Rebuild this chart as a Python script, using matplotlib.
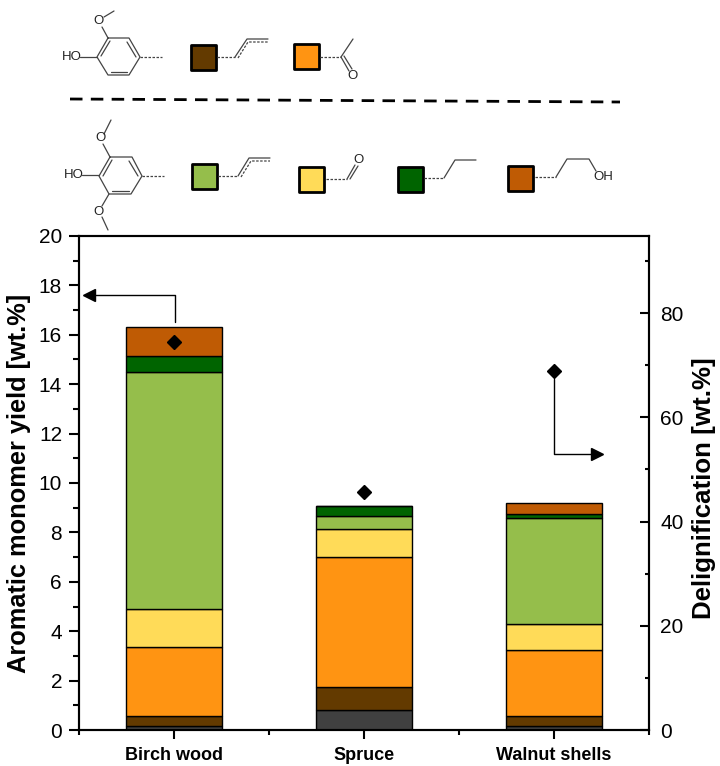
import matplotlib
matplotlib.use('Agg')
import matplotlib.pyplot as plt
from matplotlib.ticker import MultipleLocator, FixedLocator

plt.rcParams['font.family'] = ['Liberation Sans', 'DejaVu Sans']

feedstocks = ['Birch wood', 'Spruce', 'Walnut shells']
other = [0.15, 0.8, 0.17]
g_allyl = [0.4, 0.95, 0.41]
g_acetyl = [2.8, 5.25, 2.64]
s_aldehyde = [1.55, 1.15, 1.08]
s_allyl = [9.6, 0.5, 4.3]
s_propyl = [0.65, 0.4, 0.15]
s_propanol = [1.15, 0.0, 0.45]
delignification = [74.5, 45.7, 68.9]

GREY = '#404040'
BROWN = '#633A00'
ORANGE = '#FF9412'
YELLOW = '#FFDB58'
LGREEN = '#95BE4B'
DGREEN = '#006400'
RUST = '#BF5B04'

series = [(other, GREY), (g_allyl, BROWN), (g_acetyl, ORANGE), (s_aldehyde, YELLOW),
          (s_allyl, LGREEN), (s_propyl, DGREEN), (s_propanol, RUST)]

W, H = 720, 766
fig = plt.figure(figsize=(W / 100, H / 100), dpi=100)
ax = fig.add_axes([79 / W, 1 - 730 / H, 570 / W, 494 / H])
x = [1, 2, 3]

bottom = [0, 0, 0]
for vals, col in series:
    ax.bar(x, vals, 0.51, bottom=bottom, color=col, edgecolor='black', linewidth=1)
    bottom = [b + v for b, v in zip(bottom, vals)]

ax.set_xlim(0.5, 3.5)
ax.set_ylim(0, 20)
ax.set_xticks(x)
ax.set_xticklabels(feedstocks, fontweight='bold')
ax.xaxis.set_minor_locator(FixedLocator([0.5, 1.5, 2.5, 3.5]))
ax.yaxis.set_major_locator(MultipleLocator(2))
ax.yaxis.set_minor_locator(MultipleLocator(1))
ax.tick_params(axis='y', which='major', length=7.2, width=1.5, labelsize=15, pad=5)
ax.tick_params(axis='y', which='minor', length=4.3, width=1.5)
ax.tick_params(axis='x', which='major', length=6.5, width=1.5, labelsize=13, pad=6)
ax.tick_params(axis='x', which='minor', length=3.6, width=1.5)
ax.set_ylabel('Aromatic monomer yield [wt.%]', fontsize=18.3, fontweight='bold')
ax.yaxis.set_label_coords(-0.084, 0.5)
for s in ax.spines.values():
    s.set_linewidth(1.5)

ax2 = ax.twinx()
ax2.set_ylim(0, 94.8)
ax2.yaxis.set_major_locator(MultipleLocator(20))
ax2.yaxis.set_minor_locator(MultipleLocator(10))
ax2.tick_params(axis='y', which='major', direction='in', length=6.5, width=1.5, labelsize=15, pad=8)
ax2.tick_params(axis='y', which='minor', direction='in', length=3.2, width=1.5)
ax2.set_ylabel('Delignification [wt.%]', fontsize=18.6, fontweight='bold')
ax2.yaxis.set_label_coords(1.076, 0.49)
ax2.plot(x, delignification, linestyle='none', marker='D', color='black', markersize=7.5, zorder=5)
for s in ax2.spines.values():
    s.set_linewidth(1.5)

# overlay in pixel coordinates for the structures and arrows
ov = fig.add_axes([0, 0, 1, 1], facecolor='none')
ov.set_xlim(0, W)
ov.set_ylim(H, 0)
ov.axis('off')


def solid(pts, lw=0.9, col='#444444'):
    ov.plot([p[0] for p in pts], [p[1] for p in pts], color=col, lw=lw, solid_capstyle='round')


def dash(pts, lw=0.9):
    ov.plot([p[0] for p in pts], [p[1] for p in pts], color='#444444', lw=lw, linestyle=(0, (2, 1.2)))


def label(px, py, txt):
    ov.text(px, py, txt, fontsize=9.5, ha='center', va='center', color='#222222')


def square(px, py, col):
    ov.add_patch(plt.Rectangle((px, py), 25, 25, facecolor=col, edgecolor='black', linewidth=2, joinstyle='round'))


# guaiacyl
solid([(108, 38), (129, 38), (140, 57), (129, 75), (108, 75), (97, 57), (108, 38)])
solid([(127, 42), (136, 57)])
solid([(111, 72), (127, 72)])
solid([(101, 56), (110, 41)])
solid([(80, 57), (97, 57)])
solid([(108, 38), (102, 27)])
solid([(104, 17), (114, 11)])
label(72, 57.5, 'HO')
label(99, 21, 'O')
dash([(140, 57), (162, 57)])

square(191, 45, BROWN)
dash([(217, 57), (235, 57)])
solid([(235, 57), (247, 39), (268, 39)])
dash([(238, 58), (248, 42), (268, 42)])

square(294, 44, ORANGE)
dash([(320, 57), (341, 57)])
solid([(341, 57), (353, 39)])
solid([(341, 57), (349, 71)])
solid([(344, 56), (352, 69)])
label(352, 76, 'O')

# separator
ov.plot([70, 620], [99, 102], color='black', lw=2, linestyle=(0, (4.5, 3)))

# syringyl
solid([(110, 157), (132, 157), (142, 176), (131, 194), (109, 194), (99, 176), (110, 157)])
solid([(129, 161), (138, 176)])
solid([(112, 191), (129, 191)])
solid([(103, 176), (112, 160)])
solid([(82, 175), (99, 175)])
solid([(110, 157), (103, 144)])
solid([(104, 134), (111, 120)])
solid([(109, 194), (102, 206)])
solid([(102, 217), (108, 230)])
label(74, 175, 'HO')
label(100, 138, 'O')
label(98, 212, 'O')
dash([(142, 176), (164, 176)])

square(192, 164, LGREEN)
dash([(218, 176), (238, 176)])
solid([(238, 176), (249, 158), (270, 158)])
dash([(241, 177), (251, 161), (270, 161)])

square(299, 167, YELLOW)
dash([(326, 179), (347, 179)])
solid([(347, 179), (355, 165)])
solid([(350, 179), (358, 166)])
label(358, 160, 'O')

square(398, 167, DGREEN)
dash([(424, 178), (444, 178)])
solid([(444, 178), (455, 160), (476, 160)])

square(508, 166, RUST)
dash([(535, 177), (556, 177)])
solid([(556, 177), (567, 159), (589, 159), (596, 171)])
label(603, 177, 'OH')

# arrows to the axes
solid([(175, 322), (175, 295), (92, 295)], lw=1, col='black')
ov.plot([89], [295], marker='<', color='black', markersize=8)
solid([(554, 379), (554, 454), (594, 454)], lw=1, col='black')
ov.plot([597], [454], marker='>', color='black', markersize=8)

fig.savefig('out.png', dpi=100)
